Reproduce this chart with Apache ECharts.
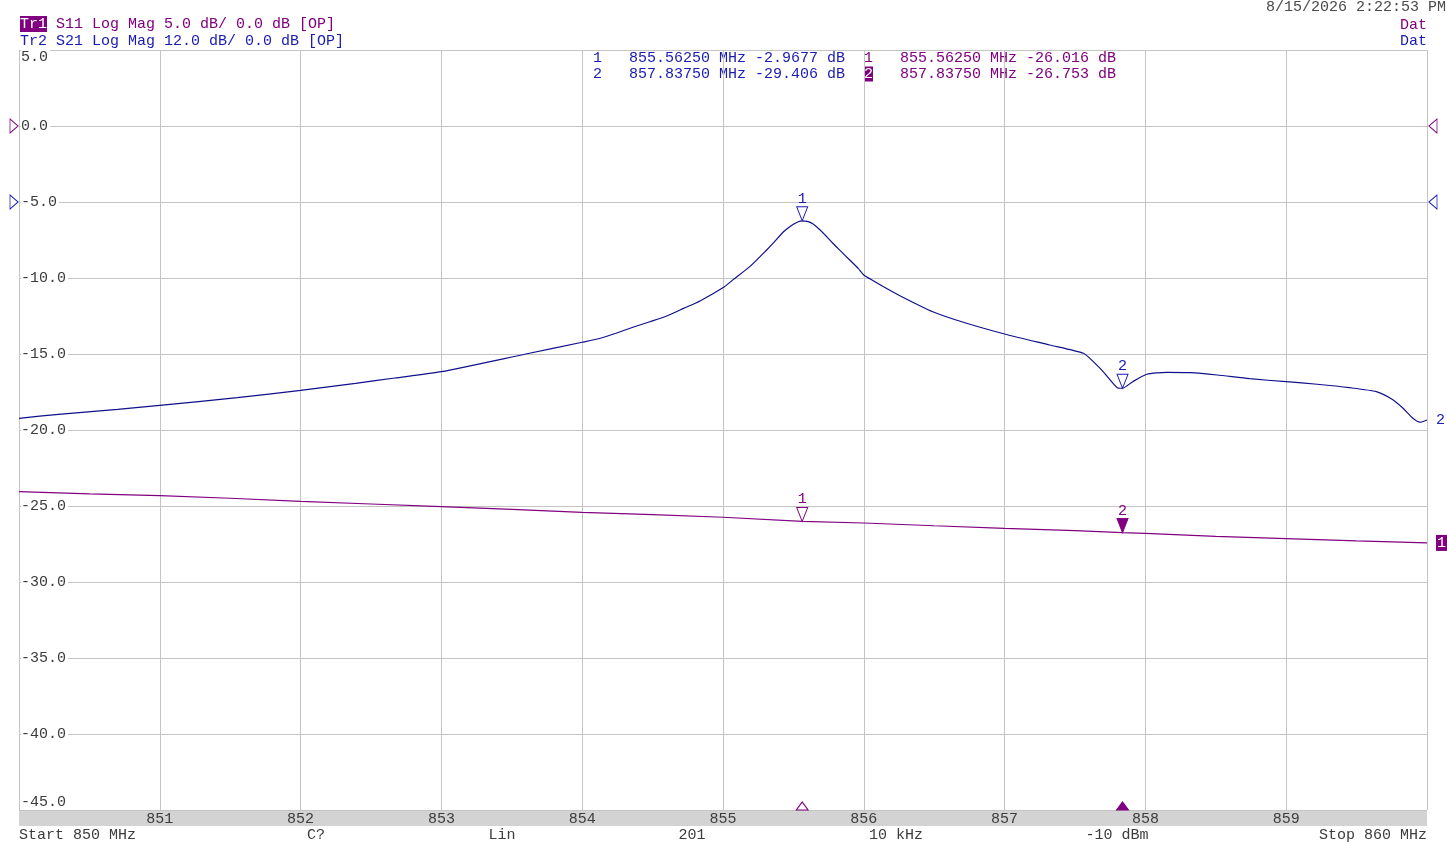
<!DOCTYPE html>
<html>
<head>
<meta charset="utf-8">
<script src="https://cdn.jsdelivr.net/npm/echarts@6/dist/echarts.min.js"></script>
<style>
  html, body { margin: 0; padding: 0; background: #ffffff; }
  #chart { width: 1447px; height: 844px; }
</style>
</head>
<body>
<div id="chart"></div>
<script>
// ---- Data ----
// S21 (Tr2, blue, 12 dB/div, ref 0 dB two divisions below top)
const freqS21 = [850.00, 850.28, 850.70, 851.00, 851.55, 852.00, 852.39, 852.67, 853.00, 853.60,
                 854.00, 854.13, 854.24, 854.36, 854.48, 854.60, 854.72, 854.84, 855.01, 855.07,
                 855.19, 855.31, 855.36, 855.43, 855.50, 855.535, 855.5625, 855.606, 855.64, 855.69,
                 855.736, 855.78, 855.84, 855.90, 855.96, 856.00, 856.07, 856.14, 856.27, 856.49,
                 856.73, 857.00, 857.32, 857.56, 857.63, 857.70, 857.80, 857.8375, 857.91, 858.01,
                 858.15, 858.32, 858.51, 858.74, 859.00, 859.22, 859.45, 859.64, 859.76, 859.83,
                 859.90, 859.95, 860.00];
const valS21  = [-34.15, -33.52, -32.73, -32.10, -30.90, -29.73, -28.63, -27.79, -26.79, -24.00,
                 -22.15, -21.52, -20.73, -19.78, -18.90, -18.00, -16.80, -15.58, -13.37, -12.30,
                 -10.21, -7.58, -6.42, -4.69, -3.52, -3.11, -2.9677, -3.11, -3.47, -4.42,
                 -5.47, -6.52, -7.84, -9.16, -10.47, -11.53, -12.47, -13.37, -14.95, -17.32,
                 -19.15, -20.84, -22.58, -23.89, -25.21, -26.79, -29.32, -29.406, -28.37, -27.20,
                 -26.89, -26.95, -27.32, -27.90, -28.37, -28.78, -29.32, -29.95, -31.26, -32.57,
                 -34.15, -34.78, -34.42];
// S11 (Tr1, purple, 5 dB/div)
const freqS11 = [850, 850.5, 851, 851.5, 852, 852.5, 853, 853.5, 854, 854.5, 855, 855.5625,
                 856, 856.5, 857, 857.5, 857.8375, 858, 858.5, 859, 859.5, 860];
const valS11  = [-24.06, -24.20, -24.32, -24.49, -24.69, -24.87, -25.04, -25.22, -25.42, -25.57,
                 -25.74, -26.016, -26.12, -26.30, -26.47, -26.62, -26.753, -26.80, -27.00, -27.15,
                 -27.30, -27.43];
// Markers
const markerFreqs = [855.5625, 857.8375];
const markerS21   = [-2.9677, -29.406];
const markerS11   = [-26.016, -26.753];
// Axis ticks
const yTicksS11 = [5, 0, -5, -10, -15, -20, -25, -30, -35, -40, -45];
const yRangeS21 = [24, -96];
const freqTicks = [850, 851, 852, 853, 854, 855, 856, 857, 858, 859, 860];
// Header / footer texts
const headerTr1 = 'S11 Log Mag 5.0 dB/ 0.0 dB [OP]';
const headerTr2 = 'Tr2 S21 Log Mag 12.0 dB/ 0.0 dB [OP]';
const dateText = '8/15/2026 2:22:53 PM';
const footerTexts = ['Start 850 MHz', 'C?', 'Lin', '201', '10 kHz', '-10 dBm', 'Stop 860 MHz'];

// ---- Styles ----
const PURPLE = '#800080';
const BLUE_TXT = '#1a1ab4';
const BLUE_TR = '#10108c';
const GRAY_TXT = '#3c3c3c';
const GRID = '#c4c4c4';
const FONT = '"Liberation Mono", "DejaVu Sans Mono", monospace';
const FS = 15;

const chart = echarts.init(document.getElementById('chart'), null, { renderer: 'canvas' });

const downTri = 'path://M0,0 L10,0 L5,13 Z';
const upTri = 'path://M5,0 L10,8 L0,8 Z';
const rightTri = 'path://M0,0 L8,7 L0,14 Z';
const leftTri = 'path://M8,0 L0,7 L8,14 Z';

function fmtMk(f, v) {
  return f.toFixed(5) + ' MHz ' + v.toPrecision(5) + ' dB';
}

const yMax = yTicksS11[0], yMin = yTicksS11[yTicksS11.length - 1];

const s11Points = freqS11.map((f, i) => [f, valS11[i]]);
const s21Points = freqS21.map((f, i) => [f, valS21[i]]);

const s21MarkData = markerFreqs.map((f, i) => ({
  coord: [f, markerS21[i]], name: String(i + 1),
  symbol: downTri, symbolSize: [11, 14], symbolOffset: [0, -7],
  itemStyle: { color: '#ffffff', borderColor: BLUE_TXT, borderWidth: 1 },
  label: { show: true, position: 'top', distance: 0, formatter: '{b}', color: BLUE_TXT,
           fontFamily: FONT, fontSize: FS }
})).concat([
  { coord: [freqTicks[0], 0], symbol: rightTri, symbolSize: [8, 14], symbolOffset: [-5, 0],
    itemStyle: { color: '#ffffff', borderColor: BLUE_TXT, borderWidth: 1 }, label: { show: false } },
  { coord: [freqTicks[freqTicks.length - 1], 0], symbol: leftTri, symbolSize: [8, 14], symbolOffset: [6, 0],
    itemStyle: { color: '#ffffff', borderColor: BLUE_TXT, borderWidth: 1 }, label: { show: false } }
]);

const s11MarkData = markerFreqs.map((f, i) => ({
  coord: [f, markerS11[i]], name: String(i + 1),
  symbol: downTri, symbolSize: [11, 14], symbolOffset: [0, -7],
  itemStyle: { color: i === 1 ? PURPLE : '#ffffff', borderColor: PURPLE, borderWidth: 1 },
  label: { show: true, position: 'top', distance: 0, formatter: '{b}', color: PURPLE,
           fontFamily: FONT, fontSize: FS }
})).concat(markerFreqs.map((f, i) => ({
  coord: [f, yMin], symbol: upTri, symbolSize: [12, 8], symbolOffset: [0, -4],
  itemStyle: { color: i === 1 ? PURPLE : '#ffffff', borderColor: PURPLE, borderWidth: 1 },
  label: { show: false }
}))).concat([
  { coord: [freqTicks[0], 0], symbol: rightTri, symbolSize: [8, 14], symbolOffset: [-5, 0],
    itemStyle: { color: '#ffffff', borderColor: PURPLE, borderWidth: 1 }, label: { show: false } },
  { coord: [freqTicks[freqTicks.length - 1], 0], symbol: leftTri, symbolSize: [8, 14], symbolOffset: [6, 0],
    itemStyle: { color: '#ffffff', borderColor: PURPLE, borderWidth: 1 }, label: { show: false } }
]);

const footerX = [19, 316, 502, 692, 896, 1117, 1427];
const footerAlign = ['left', 'center', 'center', 'center', 'center', 'center', 'right'];

const graphics = [
  { type: 'rect', z: -10, shape: { x: 19, y: 810, width: 1408, height: 16 },
    style: { fill: '#d3d3d3' } },
  { type: 'text', x: 20, y: 24, style: {
      text: '{box|Tr1}{p| ' + headerTr1 + '}', textVerticalAlign: 'middle',
      font: FS + 'px ' + FONT,
      rich: { box: { backgroundColor: PURPLE, fill: '#ffffff', padding: [1, 0, 0, 0], fontFamily: FONT, fontSize: FS },
              p: { fill: PURPLE, fontFamily: FONT, fontSize: FS } } } },
  { type: 'text', x: 20, y: 41, style: { text: headerTr2, fill: BLUE_TXT, font: FS + 'px ' + FONT,
      textVerticalAlign: 'middle' } },
  { type: 'text', x: 1446, y: 7, style: { text: dateText, fill: '#4a4a4a', font: FS + 'px ' + FONT,
      textAlign: 'right', textVerticalAlign: 'middle' } },
  { type: 'text', x: 1427, y: 25, style: { text: 'Dat', fill: PURPLE, font: FS + 'px ' + FONT,
      textAlign: 'right', textVerticalAlign: 'middle' } },
  { type: 'text', x: 1427, y: 41, style: { text: 'Dat', fill: BLUE_TXT, font: FS + 'px ' + FONT,
      textAlign: 'right', textVerticalAlign: 'middle' } }
];
markerFreqs.forEach((f, i) => {
  const y = 58 + i * 16;
  graphics.push({ type: 'text', x: 593, y: y, style: {
    text: String(i + 1) + '   ' + fmtMk(f, markerS21[i]), fill: BLUE_TXT, font: FS + 'px ' + FONT,
    textVerticalAlign: 'middle' } });
  graphics.push({ type: 'text', x: 864, y: y, style: {
    text: (i === 1 ? '{act|' + (i + 1) + '}' : '{n|' + (i + 1) + '}') + '{n|   ' + fmtMk(f, markerS11[i]) + '}',
    textVerticalAlign: 'middle', font: FS + 'px ' + FONT,
    rich: { act: { backgroundColor: PURPLE, fill: '#ffffff', fontFamily: FONT, fontSize: FS },
            n: { fill: PURPLE, fontFamily: FONT, fontSize: FS } } } });
});
footerTexts.forEach((t, i) => {
  graphics.push({ type: 'text', x: footerX[i], y: 835, style: {
    text: t, fill: GRAY_TXT, font: FS + 'px ' + FONT, textAlign: footerAlign[i], textVerticalAlign: 'middle' } });
});

const option = {
  animation: false,
  backgroundColor: '#ffffff',
  grid: { left: 19, right: 20, top: 50, bottom: 34, containLabel: false },
  xAxis: {
    type: 'value', min: freqTicks[0], max: freqTicks[freqTicks.length - 1], interval: 1,
    axisLine: { show: false }, axisTick: { show: false },
    splitLine: { show: true, lineStyle: { color: GRID, width: 1 } },
    axisLabel: { show: true, showMinLabel: false, showMaxLabel: false, margin: 1,
                 color: GRAY_TXT, fontFamily: FONT, fontSize: FS, verticalAlign: 'top', lineHeight: 16 }
  },
  yAxis: [
    {
      type: 'value', min: yMin, max: yMax, interval: 5, position: 'left',
      axisLine: { show: false }, axisTick: { show: false },
      splitLine: { show: true, lineStyle: { color: GRID, width: 1 } },
      axisLabel: {
        show: true, inside: true, margin: 2, color: GRAY_TXT, fontFamily: FONT, fontSize: FS,
        lineHeight: 15,
        formatter: function (v) {
          const s = '{b|' + v.toFixed(1) + '}';
          if (v === yMax) return '{e| }\n' + s;
          if (v === yMin) return s + '\n{e| }';
          return s;
        },
        rich: {
          b: { backgroundColor: '#ffffff', color: GRAY_TXT, fontFamily: FONT, fontSize: FS, lineHeight: 15, padding: [0, 2, 0, 0] },
          e: { fontFamily: FONT, fontSize: FS, lineHeight: 15 }
        }
      }
    },
    {
      type: 'value', min: yRangeS21[1], max: yRangeS21[0], interval: 12, position: 'right',
      axisLine: { show: false }, axisTick: { show: false }, axisLabel: { show: false },
      splitLine: { show: false }
    }
  ],
  graphic: graphics,
  series: [
    {
      name: 'S11', type: 'line', data: s11Points, yAxisIndex: 0,
      symbol: 'none', lineStyle: { color: PURPLE, width: 1.2 }, itemStyle: { color: PURPLE },
      z: 3,
      endLabel: { show: true, formatter: '1', color: '#ffffff', backgroundColor: PURPLE,
                  padding: [1, 1, 0, 1], distance: 9, fontFamily: FONT, fontSize: FS },
      markPoint: { data: s11MarkData, z: 5 }
    },
    {
      name: 'S21', type: 'line', data: s21Points, yAxisIndex: 1,
      symbol: 'none', smooth: 0.2,
      lineStyle: { color: BLUE_TR, width: 1.2 }, itemStyle: { color: BLUE_TR },
      z: 3,
      endLabel: { show: true, formatter: '2', color: BLUE_TXT, distance: 9, fontFamily: FONT, fontSize: FS },
      markPoint: { data: s21MarkData, z: 5 }
    }
  ]
};
chart.setOption(option);
</script>
</body>
</html>
